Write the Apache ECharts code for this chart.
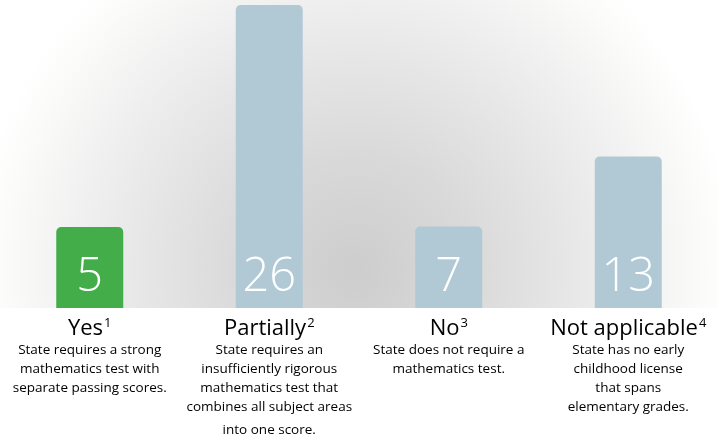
<!DOCTYPE html>
<html>
<head>
<meta charset="utf-8">
<script src="https://cdn.jsdelivr.net/npm/echarts@6/dist/echarts.min.js"></script>
<style>
html,body{margin:0;padding:0;background:#fff;}
#chart{width:718px;height:442px;}
</style>
</head>
<body>
<div id="chart"></div>
<script>
const categories = ['Yes', 'Partially', 'No', 'Not applicable'];
const footnotes = ['1', '2', '3', '4'];
const values = [5, 26, 7, 13];
const descriptions = [
  ['State requires a strong', 'mathematics test with', 'separate passing scores.'],
  ['State requires an', 'insufficiently rigorous', 'mathematics test that', 'combines all subject areas', 'into one score.'],
  ['State does not require a', 'mathematics test.'],
  ['State has no early', 'childhood license', 'that spans', 'elementary grades.']
];
const barColors = ['#43ad4a', '#b0c9d4', '#b0c9d4', '#b0c9d4'];

const FONT = '"Open Sans", "Noto Sans", sans-serif';
const chart = echarts.init(document.getElementById('chart'));

const option = {
  animation: false,
  backgroundColor: '#ffffff',
  graphic: [{
    type: 'rect',
    z: -10,
    silent: true,
    shape: { x: 0, y: 0, width: 718, height: 308 },
    style: {
      fill: new echarts.graphic.RadialGradient(355, 270, 380, [
        { offset: 0, color: '#cdcdcd' },
        { offset: 0.3, color: '#d9d9d9' },
        { offset: 0.55, color: '#e6e6e6' },
        { offset: 0.75, color: '#f1f1f1' },
        { offset: 0.92, color: '#fbfbfa' },
        { offset: 1, color: '#ffffff' }
      ], true)
    }
  }],
  grid: { left: 0, right: 0, top: 5, bottom: 134, containLabel: false },
  xAxis: {
    type: 'category',
    data: categories,
    axisLine: { show: false },
    axisTick: { show: false },
    axisLabel: {
      interval: 0,
      margin: 9,
      fontFamily: FONT,
      formatter: function (val, idx) {
        const d = descriptions[idx];
        let s = '{t|' + val + '}{s|' + footnotes[idx] + '}';
        d.forEach(function (line, i) {
          const style = (i === d.length - 1 && d.length === 5) ? 'dl' : 'd';
          s += '\n{' + style + '|' + line + '}';
        });
        return s;
      },
      rich: {
        t: { fontFamily: FONT, fontSize: 22, lineHeight: 24, color: '#000' },
        s: { fontFamily: FONT, fontSize: 13, lineHeight: 15, color: '#000', verticalAlign: 'top', padding: [0, 0, 0, 1] },
        d: { fontFamily: FONT, fontSize: 13.5, lineHeight: 19, color: '#000' },
        dl: { fontFamily: FONT, fontSize: 13.5, lineHeight: 26, color: '#000' }
      }
    }
  },
  yAxis: {
    type: 'value',
    min: 0,
    max: 26,
    show: false,
    splitLine: { show: false }
  },
  series: [{
    type: 'bar',
    data: values.map(function (v, i) { return { value: v, itemStyle: { color: barColors[i] } }; }),
    barWidth: 67,
    barMinHeight: 81,
    itemStyle: { borderRadius: [5, 5, 0, 0] },
    label: {
      show: true,
      position: ['50%', '100%'],
      offset: [0, -30],
      align: 'center',
      verticalAlign: 'middle',
      color: '#ffffff',
      fontFamily: FONT,
      fontSize: 47,
      fontWeight: 300
    }
  }]
};
chart.setOption(option);
</script>
</body>
</html>
